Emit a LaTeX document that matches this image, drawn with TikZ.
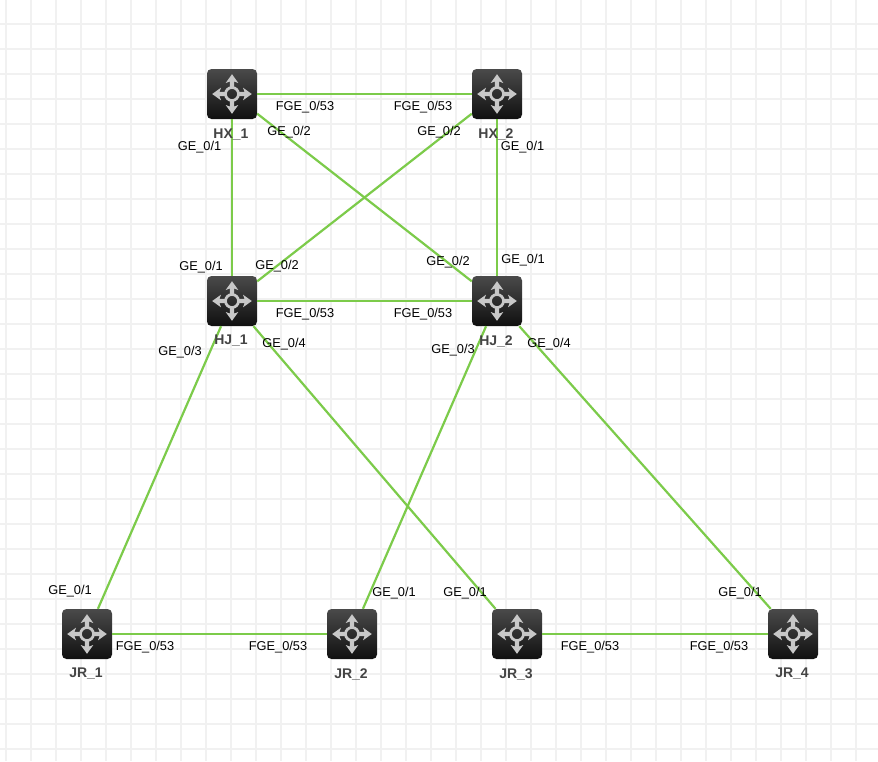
\documentclass[tikz,border=0pt]{standalone}
\usepackage{fontspec}
\setmainfont{Liberation Sans}
\definecolor{gridc}{HTML}{F1F1F1}
\definecolor{linkc}{HTML}{7CCB4A}
\definecolor{iconc}{HTML}{C8C8C8}
\definecolor{namec}{HTML}{444444}
\definecolor{topc}{HTML}{4A4A4A}
\definecolor{botc}{HTML}{101010}
\newcommand{\routericon}[1]{%
  \begin{scope}[shift={(#1.center)},x=1pt,y=1pt]
    \foreach \a in {0,90,180,270}
      \fill[iconc,rotate=\a,line join=round] (6,-2.2) -- (12.5,-2.2) -- (11,-6.3) -- (19.8,0) -- (11,6.3) -- (12.5,2.2) -- (6,2.2) -- cycle;
    \draw[iconc,line width=2.7pt] (0,0) circle[radius=6.5];
  \end{scope}}
\tikzset{
  x=1pt,y=-1pt,
  router/.style={minimum size=50pt,inner sep=0pt,rounded corners=4.5pt,top color=topc,bottom color=botc},
  link/.style={draw=linkc,line width=2.2pt},
  port/.style={font=\fontsize{12.8}{15}\selectfont,text=black,inner sep=0pt},
  devname/.style={font=\bfseries\fontsize{14}{16}\selectfont,text=namec,inner sep=0pt},
}
\begin{document}
\begin{tikzpicture}
\useasboundingbox (0,0) rectangle (878,761);
\fill[white] (0,0) rectangle (878,761);
\foreach \i in {0,...,34} \fill[gridc] (5+25*\i,0) rectangle (7.4+25*\i,761);
\foreach \i in {0,...,30} \fill[gridc] (0,22.6+25*\i) rectangle (878,25+25*\i);
% devices
\node[router] (hx1) at (232,94) {};
\node[router] (hx2) at (497,94) {};
\node[router] (hj1) at (232,301) {};
\node[router] (hj2) at (497,301) {};
\node[router] (jr1) at (87,634) {};
\node[router] (jr2) at (352,634) {};
\node[router] (jr3) at (517,634) {};
\node[router] (jr4) at (793,634) {};
\routericon{hx1}\routericon{hx2}\routericon{hj1}\routericon{hj2}
\routericon{jr1}\routericon{jr2}\routericon{jr3}\routericon{jr4}
% links
\draw[link] (hx1) -- (hx2);
\draw[link] (hj1) -- (hj2);
\draw[link] (hx1) -- (hj1);
\draw[link] (hx2) -- (hj2);
\draw[link] (hx1) -- (hj2);
\draw[link] (hx2) -- (hj1);
\draw[link] (hj1) -- (jr1);
\draw[link] (hj1) -- (jr3);
\draw[link] (hj2) -- (jr2);
\draw[link] (hj2) -- (jr4);
\draw[link] (jr1) -- (jr2);
\draw[link] (jr3) -- (jr4);
% names
\node[devname] (nhx1) at (231,134.5) {HX\_1};
\node[devname] (nhx2) at (496,134.5) {HX\_2};
\node[devname] (nhj1) at (231,341) {HJ\_1};
\node[devname] (nhj2) at (496,341) {HJ\_2};
\node[devname] (njr1) at (86,674) {JR\_1};
\node[devname] (njr2) at (351,674) {JR\_2};
\node[devname] (njr3) at (516,674) {JR\_3};
\node[devname] (njr4) at (792,674) {JR\_4};
% ports
\node[port] (p1) at (305,107) {FGE\_0/53};
\node[port] (p2) at (423,107) {FGE\_0/53};
\node[port] (p3) at (289,132.5) {GE\_0/2};
\node[port] (p4) at (439,132.5) {GE\_0/2};
\node[port] (p5) at (199.5,147) {GE\_0/1};
\node[port] (p6) at (522.5,147) {GE\_0/1};
\node[port] (p7) at (201,267.5) {GE\_0/1};
\node[port] (p8) at (277,266.5) {GE\_0/2};
\node[port] (p9) at (448,262.5) {GE\_0/2};
\node[port] (p10) at (523,260.5) {GE\_0/1};
\node[port] (p11) at (305,314.5) {FGE\_0/53};
\node[port] (p12) at (423,314.5) {FGE\_0/53};
\node[port] (p13) at (180,352.5) {GE\_0/3};
\node[port] (p14) at (284,344.5) {GE\_0/4};
\node[port] (p15) at (453,350.5) {GE\_0/3};
\node[port] (p16) at (549,344.5) {GE\_0/4};
\node[port] (p17) at (70,591.5) {GE\_0/1};
\node[port] (p18) at (394,593.5) {GE\_0/1};
\node[port] (p19) at (465,593.5) {GE\_0/1};
\node[port] (p20) at (740,593.5) {GE\_0/1};
\node[port] (p21) at (145,647.5) {FGE\_0/53};
\node[port] (p22) at (278,647.5) {FGE\_0/53};
\node[port] (p23) at (590,647.5) {FGE\_0/53};
\node[port] (p24) at (719,647.5) {FGE\_0/53};
\end{tikzpicture}
\end{document}
